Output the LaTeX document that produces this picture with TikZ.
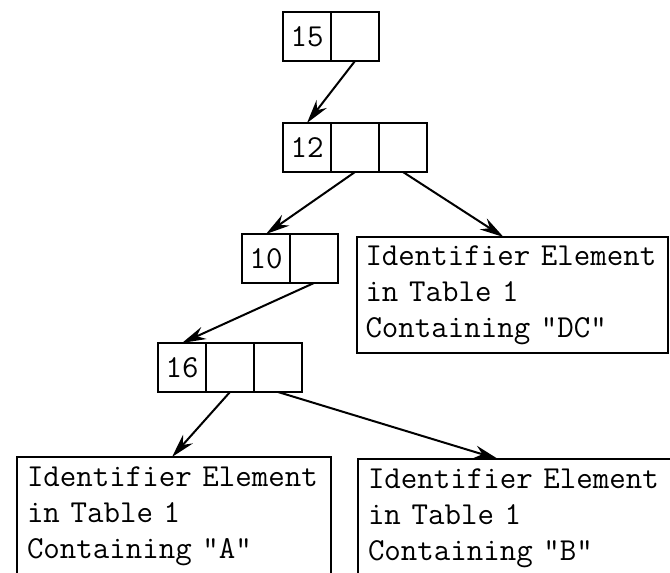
\documentclass[tikz,border=0pt]{standalone}
\usepackage{fontspec}
\usetikzlibrary{positioning,arrows.meta}
\tikzset{
    cell/.style={draw, rectangle, line width=1pt, minimum width=24pt,
        minimum height=24.5pt, inner sep=0pt, outer sep=0pt,
        font=\fontsize{16}{18}\selectfont\ttfamily},
    entry/.style={draw, rectangle, line width=1pt, anchor=north west,
        minimum height=58pt, text width=147pt, inner xsep=5pt, outer sep=0pt,
        align=left, font=\fontsize{16}{18}\selectfont\ttfamily},
    link/.style={-{Stealth[length=12pt,width=6.5pt]}, line width=1pt},
}

\begin{document}
\begin{tikzpicture}[x=0.5pt, y=-0.5pt]
    \useasboundingbox (0,0) rectangle (670,573);
    % records
    \node[cell, anchor=north west] (r15a) at (283,12) {15};
    \node[cell, right=0pt of r15a] (r15b) {};
    \node[cell, anchor=north west] (r12a) at (283,123) {12};
    \node[cell, right=0pt of r12a] (r12b) {};
    \node[cell, right=0pt of r12b] (r12c) {};
    \node[cell, anchor=north west] (r10a) at (242,234) {10};
    \node[cell, right=0pt of r10a] (r10b) {};
    \node[cell, anchor=north west] (r16a) at (158,343) {16};
    \node[cell, right=0pt of r16a] (r16b) {};
    \node[cell, right=0pt of r16b] (r16c) {};
    % identifier elements
    \node[entry, inner xsep=4.25pt] (dc) at (357,237) {Identifier Element\\in Table 1\\Containing "DC"};
    \node[entry, minimum height=59.5pt] (ea) at (17,457) {Identifier Element\\in Table 1\\Containing "A"};
    \node[entry, minimum height=59.5pt, text width=150pt] (eb) at (358,459) {Identifier Element\\in Table 1\\Containing "B"};
    % pointers
    \draw[link] (r15b.south) -- (r12a.north);
    \draw[link] (r12b.south) -- (r10a.north);
    \draw[link] (r12c.south) -- ([xshift=-4.5pt]dc.north);
    \draw[link] (r10b.south) -- (r16a.north);
    \draw[link] (r16b.south) -- ([xshift=-1pt]ea.north);
    \draw[link] (r16c.south) -- ([xshift=-10pt]eb.north);
\end{tikzpicture}
\end{document}
